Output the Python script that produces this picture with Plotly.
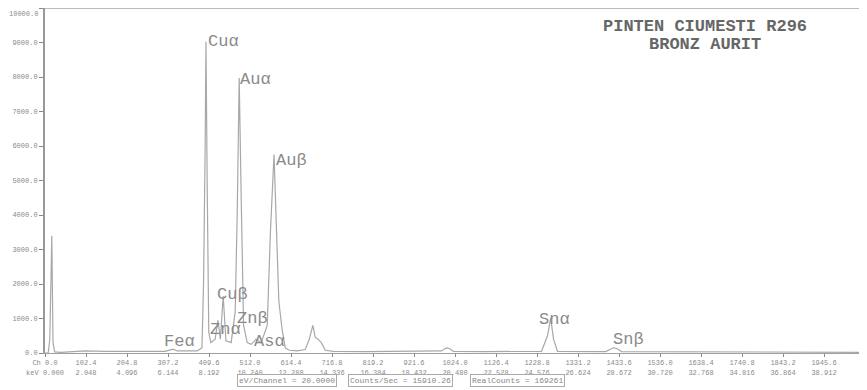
import plotly.graph_objects as go

# Spectrum points (channel, counts)
channels = [0, 8, 12, 17, 20, 24, 40, 80, 100, 150, 200, 250, 300, 310, 320, 330, 380, 392, 396, 400, 402, 405, 409,
            414, 425, 432, 438, 445, 452, 465, 475, 480, 485, 490, 496, 505, 515, 527, 540, 555, 563, 572, 578, 584,
            592, 600, 610, 630, 650, 660, 669, 675, 682, 690, 700, 720, 800, 900, 980, 990, 1003, 1010, 1020, 1100,
            1240, 1255, 1263, 1270, 1280, 1400, 1420, 1428, 1440, 1600, 1800, 2048]
counts = [0, 0, 400, 3400, 300, 30, 20, 40, 60, 50, 40, 50, 50, 80, 110, 60, 60, 150, 2000, 6000, 9020, 5000, 600,
          300, 400, 950, 400, 1650, 350, 300, 1200, 4000, 7970, 4500, 800, 300, 250, 400, 300, 800, 3500, 5750, 3500, 1500,
          700, 150, 80, 60, 100, 400, 800, 450, 400, 300, 80, 50, 40, 45, 40, 60, 150, 130, 50, 40,
          50, 500, 1020, 400, 50, 40, 150, 130, 40, 35, 30, 20]

# Peak labels (label, channel, counts)
peak_labels = ["Cuα", "Auα", "Auβ", "Cuβ", "Znα", "Znβ", "Asα", "Feα", "Snα", "Snβ"]
peak_ch = [402, 482, 572, 425, 407, 474, 517, 292, 1229, 1414]
peak_ct = [9015, 7940, 5590, 1710, 667, 1014, 319, 319, 957, 377]

y_ticks = [0, 1000, 2000, 3000, 4000, 5000, 6000, 7000, 8000, 9000, 10000]
y_ticktext = [f"{v:.1f}" for v in y_ticks[:-1]] + [""]
x_ticks = [0, 102.4, 204.8, 307.2, 409.6, 512.0, 614.4, 716.8, 819.2, 921.6, 1024.0, 1126.4, 1228.8, 1331.2,
           1433.6, 1536.0, 1638.4, 1740.8, 1843.2, 1945.6, 2048.0]
ev_per_channel = 20.0
x_ticktext = []
for i, c in enumerate(x_ticks):
    kev = c * ev_per_channel / 1000
    if i == 0:
        x_ticktext.append(f"Ch {c:.1f}<br>keV {kev:.3f}")
    else:
        x_ticktext.append(f"{c:.1f}<br>{kev:.3f}")

footer = ["eV/Channel = 20.0000", "Counts/Sec = 15910.26", "RealCounts = 169261"]
footer_x = [605, 887, 1180]

fig = go.Figure()
fig.add_trace(go.Scatter(x=channels, y=counts, mode="lines",
                         line=dict(color="#a8a8a8", width=1.2), hoverinfo="skip", showlegend=False))

for lab, cx, cy in zip(peak_labels, peak_ch, peak_ct):
    fig.add_annotation(x=cx, y=cy, text=lab, showarrow=False, xanchor="left", yanchor="middle",
                       font=dict(family="Liberation Mono", size=17, color="#8a8a8a"))

fig.add_annotation(x=0.805, y=0.946, xref="paper", yref="paper", text="<b>PINTEN CIUMESTI R296</b>",
                   showarrow=False, xanchor="center", yanchor="middle",
                   font=dict(family="Liberation Mono", size=17, color="#666666"))
fig.add_annotation(x=0.805, y=0.893, xref="paper", yref="paper", text="<b>BRONZ AURIT</b>",
                   showarrow=False, xanchor="center", yanchor="middle",
                   font=dict(family="Liberation Mono", size=17, color="#666666"))

# top y tick label (would be clipped at the figure edge as a regular tick label)
fig.add_annotation(x=0, y=1, xref="paper", yref="paper", text=f"{y_ticks[-1]:.1f}", showarrow=False,
                   xanchor="right", yanchor="top", xshift=-5,
                   font=dict(family="Liberation Mono", size=7, color="#8a8a8a"))

for txt, fx in zip(footer, footer_x):
    fig.add_annotation(x=fx, y=-0.081, xref="x", yref="paper", text=txt, showarrow=False,
                       xanchor="center", yanchor="middle", bordercolor="#aaaaaa", borderwidth=1, borderpad=1,
                       font=dict(family="Liberation Mono", size=8, color="#888888"))

fig.add_shape(type="line", xref="paper", yref="paper", x0=0, x1=1, y0=1.0, y1=1.0,
              line=dict(color="#bbbbbb", width=2))

# The page body has an 8px margin, so the figure is sized to fit the 867x390 window
fig.update_layout(
    width=859, height=382,
    margin=dict(l=37, r=2, t=0, b=37),
    plot_bgcolor="white", paper_bgcolor="white",
    xaxis=dict(range=[0, 2048], tickvals=x_ticks, ticktext=x_ticktext, showgrid=False, zeroline=False,
               automargin=False,
               showline=True, linecolor="#a0a0a0", linewidth=1, ticks="outside", ticklen=3,
               tickcolor="#888888", tickfont=dict(family="Liberation Mono", size=7, color="#8a8a8a")),
    yaxis=dict(range=[0, 10000], tickvals=y_ticks, ticktext=y_ticktext, showgrid=False, zeroline=False,
               automargin=False,
               showline=True, linecolor="#999999", linewidth=2, ticks="outside", ticklen=4,
               tickcolor="#888888", tickfont=dict(family="Liberation Mono", size=7, color="#8a8a8a")),
)

fig.write_html("out.html")
